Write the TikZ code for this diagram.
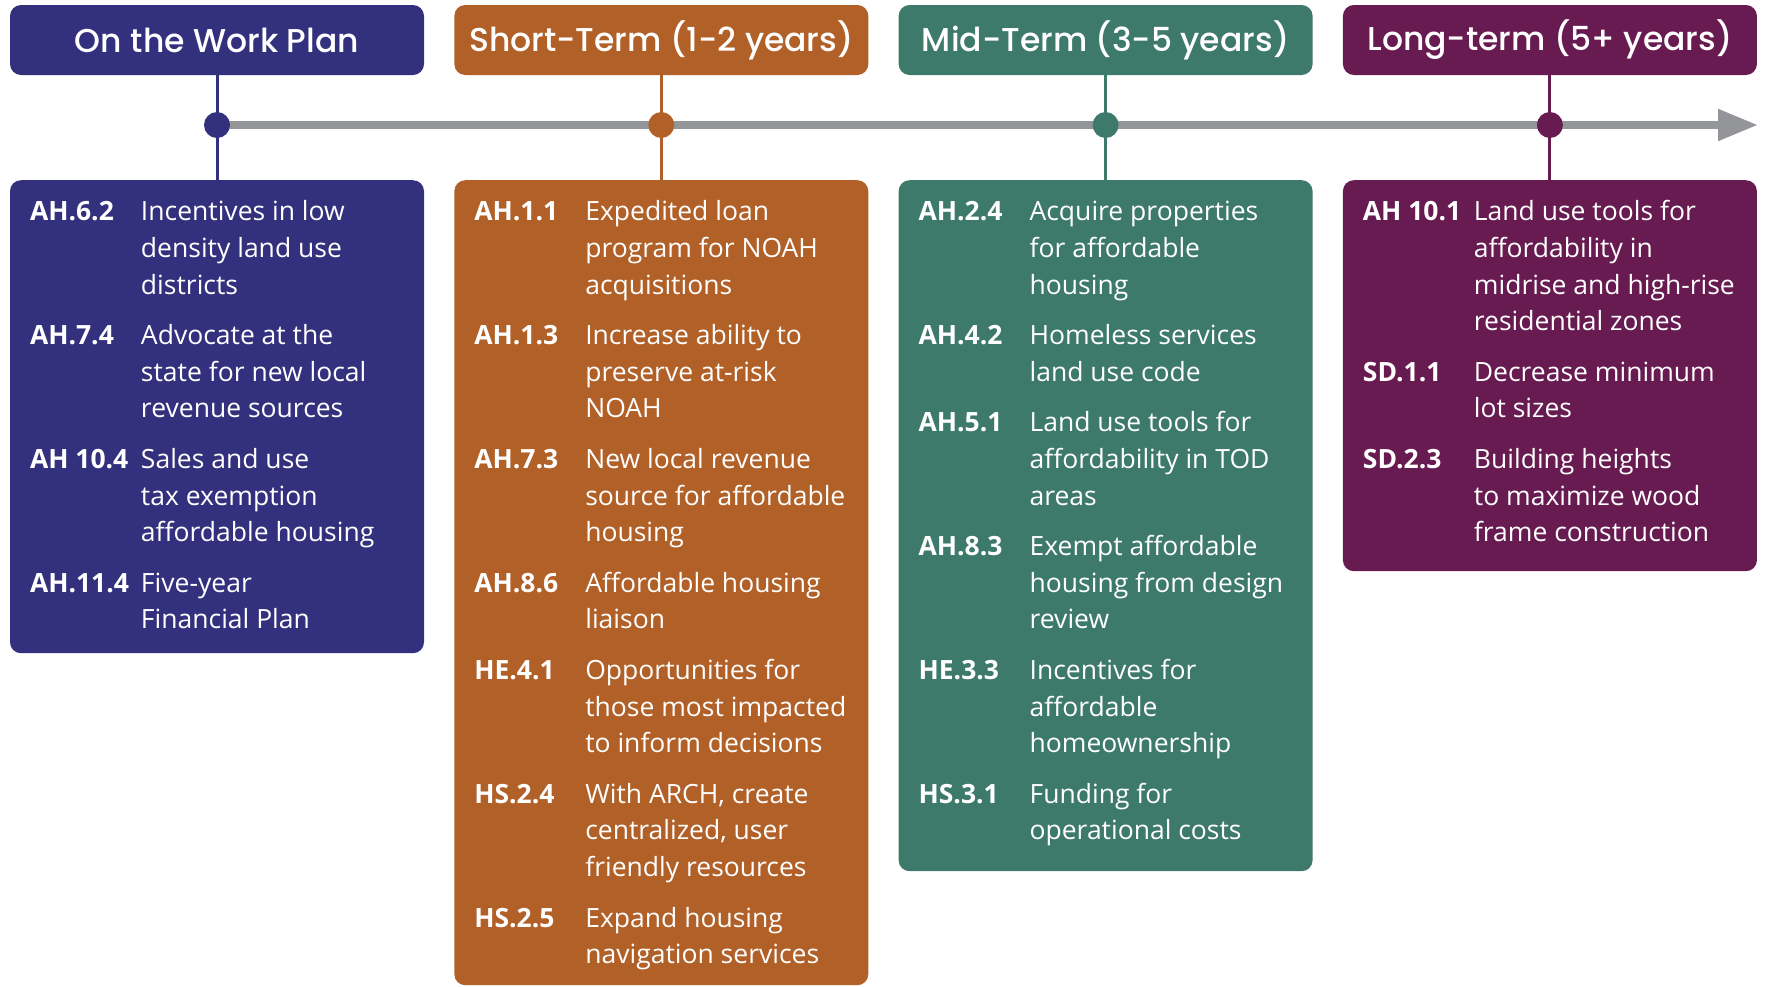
\documentclass[tikz,border=0pt]{standalone}
\usepackage{fontspec}
\usepackage{array}
\setmainfont{Open Sans}
\newfontfamily\headfont{Poppins Medium}
\usetikzlibrary{arrows.meta}

\definecolor{plan}{HTML}{33317D}
\definecolor{short}{HTML}{B16028}
\definecolor{mid}{HTML}{3E7A6C}
\definecolor{long}{HTML}{671B51}
\definecolor{rule}{HTML}{939598}

\newcommand{\ColStep}{444.3}
\newcommand{\ColW}{414}
\newcommand{\Gap}{\noalign{\vskip 14pt}}
\newenvironment{items}{\begin{tabular}{@{}>{\bfseries}p{111pt}@{}>{\raggedright\arraybackslash}p{280pt}@{}}}{\end{tabular}}

\begin{document}
\begin{tikzpicture}[x=1pt,y=-1pt,
  head/.style={rounded corners=11pt, minimum width=\ColW pt, minimum height=70pt, inner sep=0pt, text=white, font=\headfont\fontsize{33}{40}\selectfont},
  card/.style={rounded corners=11pt, minimum width=\ColW pt, anchor=north, inner sep=0pt},
  dot/.style={circle, minimum size=26pt, inner sep=0pt},
  link/.style={line width=3pt},
  list/.style={anchor=north west, inner sep=0pt, text=white, font=\fontsize{26.5}{36.6}\selectfont}]

\useasboundingbox (0,0) rectangle (1765,986);

% headers
\node[head, fill=plan] (plan-head) at (217,40) {On the Work Plan};
\node[head, fill=short] (short-head) at (217+\ColStep,40) {Short-Term (1-2 years)};
\node[head, fill=mid] (mid-head) at (217+2*\ColStep,40) {Mid-Term (3-5 years)};
\node[head, fill=long] (long-head) at (217+3*\ColStep,40) {Long-term (5+ years)};

% cards
\node[card, fill=plan, minimum height=473pt] (plan-card) at (217,180) {};
\node[card, fill=short, minimum height=805pt] (short-card) at (217+\ColStep,180) {};
\node[card, fill=mid, minimum height=691pt] (mid-card) at (217+2*\ColStep,180) {};
\node[card, fill=long, minimum height=391pt] (long-card) at (217+3*\ColStep,180) {};

\draw[link, plan] (plan-head) -- (plan-card);
\draw[link, short] (short-head) -- (short-card);
\draw[link, mid] (mid-head) -- (mid-card);
\draw[link, long] (long-head) -- (long-card);

% timeline
\coordinate (line-start) at (217,125);
\coordinate (line-end) at (1758,125);
\draw[line width=8pt, rule, -{Triangle[length=40pt,width=30pt]}] (line-start) -- (line-end);

\node[dot, fill=plan] (plan-dot) at (217,125) {};
\node[dot, fill=short] (short-dot) at (217+\ColStep,125) {};
\node[dot, fill=mid] (mid-dot) at (217+2*\ColStep,125) {};
\node[dot, fill=long] (long-dot) at (217+3*\ColStep,125) {};

% lists
\node[list] (plan-list) at ([shift={(20,15)}]plan-card.north west) {\begin{items}
AH.6.2 & Incentives in low\newline density land use\newline districts \\ \Gap
AH.7.4 & Advocate at the\newline state for new local\newline revenue sources \\ \Gap
AH 10.4 & Sales and use\newline tax exemption\newline affordable housing \\ \Gap
AH.11.4 & Five-year\newline Financial Plan
\end{items}};

\node[list] (short-list) at ([shift={(20,15)}]short-card.north west) {\begin{items}
AH.1.1 & Expedited loan\newline program for NOAH\newline acquisitions \\ \Gap
AH.1.3 & Increase ability to\newline preserve at-risk\newline NOAH \\ \Gap
AH.7.3 & New local revenue\newline source for affordable\newline housing \\ \Gap
AH.8.6 & Affordable housing\newline liaison \\ \Gap
HE.4.1 & Opportunities for\newline those most impacted\newline to inform decisions \\ \Gap
HS.2.4 & With ARCH, create\newline centralized, user\newline friendly resources \\ \Gap
HS.2.5 & Expand housing\newline navigation services
\end{items}};

\node[list] (mid-list) at ([shift={(20,15)}]mid-card.north west) {\begin{items}
AH.2.4 & Acquire properties\newline for affordable\newline housing \\ \Gap
AH.4.2 & Homeless services\newline land use code \\ \Gap
AH.5.1 & Land use tools for\newline affordability in TOD\newline areas \\ \Gap
AH.8.3 & Exempt affordable\newline housing from design\newline review \\ \Gap
HE.3.3 & Incentives for\newline affordable\newline homeownership \\ \Gap
HS.3.1 & Funding for\newline operational costs
\end{items}};

\node[list] (long-list) at ([shift={(20,15)}]long-card.north west) {\begin{items}
AH 10.1 & Land use tools for\newline affordability in\newline midrise and high-rise\newline residential zones \\ \Gap
SD.1.1 & Decrease minimum\newline lot sizes \\ \Gap
SD.2.3 & Building heights\newline to maximize wood\newline frame construction
\end{items}};

\end{tikzpicture}
\end{document}
